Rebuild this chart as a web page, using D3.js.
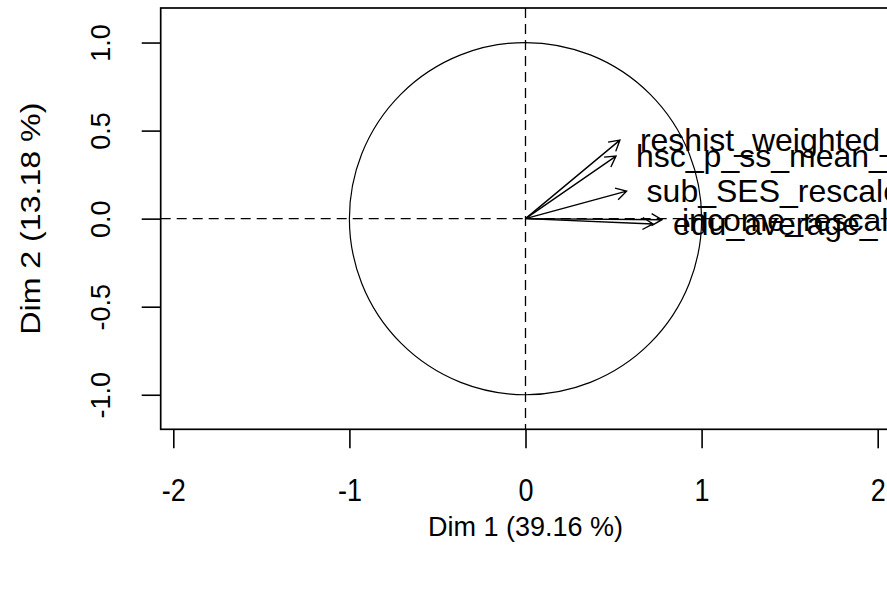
<!DOCTYPE html>
<html>
<head>
<meta charset="utf-8">
<script src="https://cdn.jsdelivr.net/npm/d3@7"></script>
<style>
  html, body { margin: 0; padding: 0; background: #fff; }
  svg { display: block; }
  text { font-family: "Liberation Sans", Arial, sans-serif; fill: #000; }
</style>
</head>
<body>
<svg id="chart" width="887" height="589"></svg>
<script>
// Variables factor map (PCA): coordinates of each variable on Dim 1 / Dim 2
const variables = ["reshist_weighted_", "hsc_p_ss_mean_", "sub_SES_rescale", "income_rescaled", "edu_average_"];
const dim1 = [0.536, 0.514, 0.574, 0.775, 0.724];
const dim2 = [0.446, 0.355, 0.156, -0.006, -0.030];

const xTicks = [-2, -1, 0, 1, 2];
const yTicks = [-1.0, -0.5, 0.0, 0.5, 1.0];
const xTitle = "Dim 1 (39.16 %)";
const yTitle = "Dim 2 (13.18 %)";

const W = 887, H = 589;
const plot = { left: 160.7, top: 8, bottom: 429.3 };
const unit = 176.1;                        // pixels per unit, same on both axes (asp = 1)
const yHalf = (plot.bottom - plot.top) / 2 / unit;
const x0 = 525.5;
const xMin = -(x0 - plot.left) / unit, xMax = -xMin;

const x = d3.scaleLinear().domain([xMin, xMax]).range([plot.left, plot.left + (xMax - xMin) * unit]);
const y = d3.scaleLinear().domain([-yHalf, yHalf]).range([plot.bottom, plot.top]);

// plain hyphen for negative numbers
const fmtX = d => d3.format("d")(d).replace("\u2212", "-");
const fmtY = d => d3.format(".1f")(d).replace("\u2212", "-");

const svg = d3.select("#chart");
const fs = 27;

svg.append("defs").append("clipPath").attr("id", "clip")
  .append("rect").attr("x", plot.left).attr("y", plot.top)
  .attr("width", x.range()[1] - plot.left).attr("height", plot.bottom - plot.top);

const g = svg.append("g").attr("clip-path", "url(#clip)");

// Reference lines through the origin
g.append("line")
  .attr("x1", x(xMin)).attr("x2", x(xMax)).attr("y1", y(0)).attr("y2", y(0))
  .attr("stroke", "#000").attr("stroke-width", 1.3).attr("stroke-dasharray", "10,6");
g.append("line")
  .attr("x1", x(0)).attr("x2", x(0)).attr("y1", y(yHalf)).attr("y2", y(-yHalf))
  .attr("stroke", "#000").attr("stroke-width", 1.3).attr("stroke-dasharray", "10,6");

// Correlation circle
g.append("circle")
  .attr("cx", x(0)).attr("cy", y(0)).attr("r", x(1) - x(0))
  .attr("fill", "none").attr("stroke", "#000").attr("stroke-width", 1.2);

// Arrows
const headLen = 12, headAng = Math.PI / 6;
const data = variables.map((name, i) => ({ name, d1: dim1[i], d2: dim2[i] }));
const arrows = g.selectAll("g.arrow").data(data).join("g").attr("class", "arrow");
arrows.append("path")
  .attr("d", d => {
    const x1 = x(0), y1 = y(0), x2 = x(d.d1), y2 = y(d.d2);
    const a = Math.atan2(y2 - y1, x2 - x1);
    const hx1 = x2 - headLen * Math.cos(a - headAng), hy1 = y2 - headLen * Math.sin(a - headAng);
    const hx2 = x2 - headLen * Math.cos(a + headAng), hy2 = y2 - headLen * Math.sin(a + headAng);
    return `M${x1},${y1}L${x2},${y2}M${hx1},${hy1}L${x2},${y2}L${hx2},${hy2}`;
  })
  .attr("fill", "none").attr("stroke", "#000").attr("stroke-width", 1.4);

// Labels placed to the right of each arrow tip
svg.selectAll("text.varlab").data(data).join("text")
  .attr("class", "varlab")
  .attr("x", d => x(d.d1) + 20)
  .attr("y", d => y(d.d2))
  .attr("dy", "0.35em")
  .attr("font-size", 32)
  .text(d => d.name);

// Frame
svg.append("rect")
  .attr("x", plot.left).attr("y", plot.top)
  .attr("width", W + 10 - plot.left).attr("height", plot.bottom - plot.top)
  .attr("fill", "none").attr("stroke", "#000").attr("stroke-width", 1.7);

// X axis (tick labels drawn slightly tall)
const xAxis = svg.append("g").attr("transform", `translate(0,${plot.bottom})`)
  .call(d3.axisBottom(x).tickValues(xTicks).tickFormat(fmtX).tickSize(19));
xAxis.select(".domain").remove();
xAxis.selectAll("line").attr("stroke-width", 1.6);
xAxis.selectAll("text")
  .attr("font-size", fs).attr("font-family", "Liberation Sans, Arial, sans-serif")
  .attr("y", 0).attr("dy", "0.35em")
  .attr("transform", "translate(0,61) scale(1,1.18)");

// Y axis with labels parallel to the axis
const yAxis = svg.append("g").attr("transform", `translate(${plot.left},0)`)
  .call(d3.axisLeft(y).tickValues(yTicks).tickFormat(fmtY).tickSize(19));
yAxis.select(".domain").remove();
yAxis.selectAll("line").attr("stroke-width", 1.6);
yAxis.selectAll("text")
  .attr("font-size", fs).attr("font-family", "Liberation Sans, Arial, sans-serif")
  .attr("x", null).attr("dy", null)
  .attr("text-anchor", "middle")
  .attr("transform", "translate(-60,0) rotate(-90)")
  .attr("y", 0).attr("dy", "0.35em");

// Axis titles
svg.append("text")
  .attr("x", x(0)).attr("y", 527).attr("dy", "0.35em")
  .attr("text-anchor", "middle").attr("font-size", fs).text(xTitle);
svg.append("text")
  .attr("transform", `translate(30,${y(0)}) rotate(-90)`)
  .attr("dy", "0.35em")
  .attr("text-anchor", "middle").attr("font-size", 28)
  .attr("textLength", 232).attr("lengthAdjust", "spacingAndGlyphs")
  .text(yTitle);
</script>
</body>
</html>
